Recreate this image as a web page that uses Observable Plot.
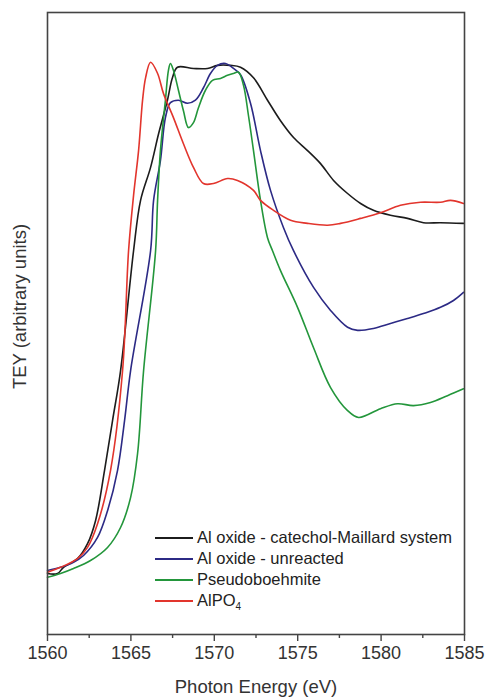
<!DOCTYPE html>
<html>
<head>
<meta charset="utf-8">
<script src="https://cdn.jsdelivr.net/npm/d3@7"></script>
<script src="https://cdn.jsdelivr.net/npm/@observablehq/plot@0.6"></script>
<style>
  html, body { margin: 0; padding: 0; background: #fff; }
  #wrap { position: relative; width: 486px; height: 698px; font-family: "Liberation Sans", Arial, sans-serif; }
  #legend { position: absolute; left: 155px; top: 527px; color: #222; font-size: 16.5px; line-height: 21px; }
  #legend .row { display: flex; align-items: center; height: 21px; white-space: nowrap; }
  #legend .sw { width: 38px; height: 0; border-top: 2px solid; margin-right: 4px; }
  #legend sub { font-size: 10px; vertical-align: -4px; line-height: 0; }
</style>
</head>
<body>
<div id="wrap"><div id="legend"></div></div>
<script>
// Photon energy (eV) vs TEY (arbitrary units, 0-100 = bottom-top of frame)
const catecholMaillard = [
  [1560.0, 9.8], [1560.6, 9.8], [1560.96, 10.8], [1561.8, 12.2], [1562.4, 14.6], [1562.88, 18.3],
  [1563.42, 26.4], [1563.9, 34.4], [1564.38, 42.4], [1565.16, 61.7], [1565.58, 69.8], [1566.18, 75.1],
  [1566.66, 80.5], [1567.19, 85.9], [1567.49, 89.5], [1567.79, 91.2], [1568.75, 91.0], [1569.59, 91.0],
  [1570.19, 91.5], [1570.97, 91.5], [1571.57, 91.2], [1572.35, 89.5], [1573.19, 85.9], [1573.97, 82.6],
  [1574.75, 79.9], [1575.59, 77.8], [1576.37, 75.7], [1577.15, 73.0], [1577.99, 70.9], [1578.77, 69.3],
  [1579.54, 68.2], [1580.56, 67.4], [1581.58, 66.9], [1582.54, 66.2], [1583.56, 66.2], [1584.94, 66.1]
];
const unreacted = [
  [1560.0, 10.3], [1560.78, 10.8], [1561.56, 11.6], [1562.16, 12.7], [1563.0, 15.6], [1563.6, 19.9],
  [1564.2, 26.4], [1564.62, 34.4], [1564.98, 42.4], [1566.18, 61.7], [1566.36, 69.8], [1566.77, 76.2],
  [1567.07, 83.1], [1567.37, 85.5], [1567.85, 85.9], [1568.39, 85.4], [1568.87, 85.9], [1569.35, 87.9],
  [1569.77, 90.2], [1570.19, 91.5], [1570.67, 91.8], [1571.15, 91.0], [1571.57, 90.0], [1572.17, 85.4],
  [1572.77, 77.8], [1573.37, 71.4], [1574.15, 65.4], [1574.75, 61.7], [1575.95, 55.8], [1576.97, 52.1],
  [1577.99, 49.4], [1578.59, 48.9], [1579.54, 49.2], [1580.56, 50.0], [1581.58, 50.8], [1582.54, 51.6],
  [1583.56, 52.6], [1584.34, 53.7], [1584.94, 55.0]
];
const pseudoboehmite = [
  [1560.0, 9.2], [1560.78, 9.8], [1561.56, 10.6], [1562.58, 11.9], [1563.6, 14.0], [1564.38, 17.2],
  [1564.98, 22.0], [1565.4, 29.1], [1565.76, 42.4], [1566.48, 61.7], [1566.6, 69.8], [1566.77, 77.8],
  [1567.07, 85.9], [1567.25, 90.7], [1567.37, 91.8], [1567.55, 90.7], [1567.85, 87.5], [1568.15, 84.2],
  [1568.45, 81.5], [1568.75, 82.3], [1569.05, 84.7], [1569.47, 87.5], [1569.89, 89.1], [1570.37, 89.4],
  [1570.79, 89.9], [1571.15, 90.2], [1571.45, 90.4], [1571.75, 88.3], [1572.05, 83.4], [1572.35, 77.8],
  [1572.77, 69.8], [1573.19, 63.8], [1573.49, 61.7], [1573.97, 58.5], [1574.99, 52.6], [1575.95, 46.1],
  [1576.97, 39.7], [1577.99, 36.0], [1578.65, 34.9], [1579.96, 36.3], [1580.98, 37.1], [1581.94, 36.8],
  [1582.96, 37.3], [1583.98, 38.4], [1584.94, 39.5]
];
const alpo4 = [
  [1560.0, 10.0], [1560.78, 10.8], [1561.8, 12.2], [1562.4, 14.0], [1563.0, 17.8], [1563.78, 26.4],
  [1564.5, 42.4], [1564.86, 61.7], [1565.16, 70.6], [1565.46, 77.8], [1565.7, 85.9], [1565.88, 89.5],
  [1566.18, 92.0], [1566.6, 90.2], [1566.95, 87.0], [1567.55, 83.1], [1568.15, 78.9], [1568.75, 75.1],
  [1569.35, 72.5], [1569.95, 72.5], [1570.79, 73.3], [1571.39, 73.0], [1572.35, 71.4], [1572.77, 69.8],
  [1573.55, 68.2], [1574.57, 66.6], [1575.59, 66.1], [1576.79, 65.8], [1577.57, 66.1], [1578.77, 66.9],
  [1579.96, 67.8], [1581.16, 69.0], [1582.36, 69.5], [1583.56, 69.5], [1584.16, 69.8], [1584.94, 69.3]
];

const seriesNames = ["Al oxide - catechol-Maillard system", "Al oxide - unreacted", "Pseudoboehmite", "AlPO<sub>4</sub>"];
const seriesColors = ["#1c1c1c", "#2c2a85", "#23963b", "#e2352d"];
const seriesData = [catecholMaillard, unreacted, pseudoboehmite, alpo4];
const xTicks = [1560, 1565, 1570, 1575, 1580, 1585];
const xMinorTicks = [1562.5, 1567.5, 1572.5, 1577.5, 1582.5];

const rows = [];
seriesData.forEach((arr, i) => arr.forEach(([e, v]) => rows.push({series: i, e, v})));

const chart = Plot.plot({
  width: 486,
  height: 698,
  marginLeft: 47,
  marginRight: 22,
  marginTop: 12,
  marginBottom: 64,
  style: {fontFamily: "'Liberation Sans', Arial, sans-serif", color: "#333", background: "#fff"},
  x: {domain: [1560, 1585]},
  y: {domain: [0, 100], axis: null},
  marks: [
    ...seriesData.map((arr, i) => Plot.line(rows.filter(d => d.series === i), {
      x: "e", y: "v", stroke: seriesColors[i], strokeWidth: 1.6, curve: "catmull-rom"
    })),
    Plot.frame({stroke: "#444", strokeWidth: 1.6}),
    Plot.axisX({ticks: xTicks, tickFormat: d => String(d), tickSize: 7, tickPadding: 5, fontSize: 18, label: null, stroke: "#444", strokeWidth: 1.4, fill: "#333"}),
    Plot.axisX({ticks: xMinorTicks, tickSize: 4, text: null, label: null, stroke: "#444", strokeWidth: 1.4}),
    Plot.text(["Photon Energy (eV)"], {frameAnchor: "bottom", dy: 58, fontSize: 18.5, fill: "#333"}),
    Plot.text(["TEY (arbitrary units)"], {frameAnchor: "left", textAnchor: "middle", rotate: -90, dx: -27, dy: -17, fontSize: 18.5, fill: "#333"})
  ]
});
const wrap = document.getElementById("wrap");
wrap.insertBefore(chart, wrap.firstChild);

const legend = document.getElementById("legend");
seriesNames.forEach((name, i) => {
  const row = document.createElement("div");
  row.className = "row";
  row.innerHTML = `<span class="sw" style="border-color:${seriesColors[i]}"></span><span>${name}</span>`;
  legend.appendChild(row);
});
</script>
</body>
</html>
